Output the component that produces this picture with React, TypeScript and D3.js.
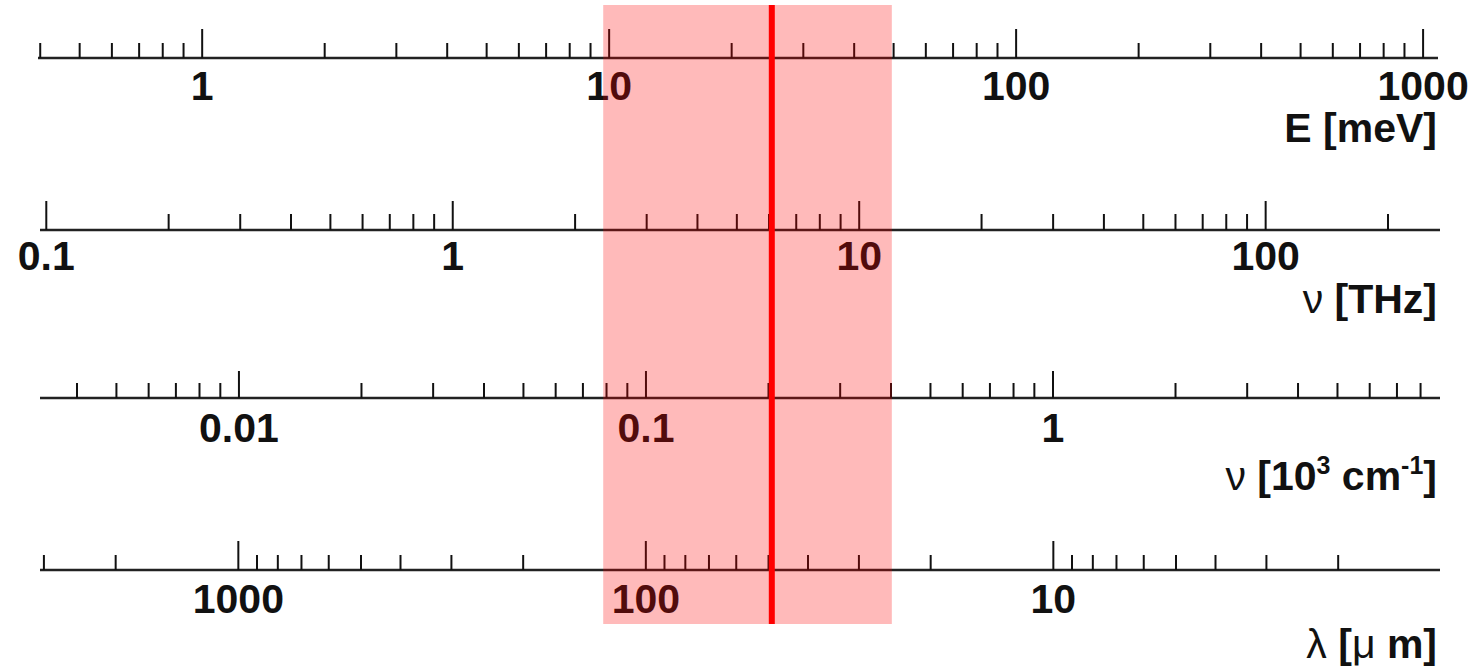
import React from 'react';
import * as d3 from 'd3';

// ---- data ----
const energyDomain = [0.395, 1088]; // meV
const energyLabels = [1, 10, 100, 1000];
const thzDomain = [0.0965, 268.5]; // THz
const thzLabels = [0.1, 1, 10, 100];
const wavenumberDomain = [0.003245, 8.93]; // 10^3 cm^-1
const wavenumberLabels = [0.01, 0.1, 1];
const wavelengthDomain = [3067, 1.125]; // µm (reversed)
const wavelengthLabels = [1000, 100, 10];
const bandMeV = [9.67, 49.5];
const markerMeV = 25.1;

const W = 1476;
const H = 669;
const FONT = '"Liberation Sans", Arial, Helvetica, sans-serif';

type AxisDef = {
  key: string;
  domain: number[];
  labels: number[];
  x0: number;
  x1: number;
  y: number;
  majorLen: number;
  minorLen: number;
  labelDy: number;
  titleY: number;
};

const axes: AxisDef[] = [
  { key: 'E', domain: energyDomain, labels: energyLabels, x0: 38, x1: 1438, y: 58, majorLen: 29, minorLen: 15, labelDy: 42, titleY: 142 },
  { key: 'THz', domain: thzDomain, labels: thzLabels, x0: 40, x1: 1440, y: 230, majorLen: 29, minorLen: 16, labelDy: 40, titleY: 313 },
  { key: 'cm', domain: wavenumberDomain, labels: wavenumberLabels, x0: 40, x1: 1440, y: 398, majorLen: 27, minorLen: 15, labelDy: 44, titleY: 490 },
  { key: 'lam', domain: wavelengthDomain, labels: wavelengthLabels, x0: 40, x1: 1440, y: 570, majorLen: 29, minorLen: 15, labelDy: 43, titleY: 658 },
];

const isDecade = (v: number) => {
  const l = Math.log10(v);
  return Math.abs(l - Math.round(l)) < 1e-6;
};

function Title({ k, y }: { k: string; y: number }) {
  const common = { x: 1437, y, textAnchor: 'end' as const, fontFamily: FONT, fontSize: 41, fill: '#111' };
  if (k === 'E') {
    return (
      <text {...common} fontWeight="bold">E [meV]</text>
    );
  }
  if (k === 'THz') {
    return (
      <text {...common}>
        <tspan fontWeight="normal">ν </tspan>
        <tspan fontWeight="bold">[THz]</tspan>
      </text>
    );
  }
  if (k === 'cm') {
    return (
      <text {...common}>
        <tspan fontWeight="normal">ν </tspan>
        <tspan fontWeight="bold">[10</tspan>
        <tspan fontWeight="bold" fontSize={25} dy={-16}>3</tspan>
        <tspan fontWeight="bold" dy={16}> cm</tspan>
        <tspan fontWeight="bold" fontSize={25} dy={-16}>-1</tspan>
        <tspan fontWeight="bold" dy={16}>]</tspan>
      </text>
    );
  }
  return (
    <text {...common}>
      <tspan fontWeight="normal">λ </tspan>
      <tspan fontWeight="bold">[</tspan>
      <tspan fontWeight="normal">μ</tspan>
      <tspan fontWeight="bold"> m]</tspan>
    </text>
  );
}

function Axis({ a }: { a: AxisDef }) {
  const scale = d3.scaleLog().domain(a.domain).range([a.x0, a.x1]);
  const ticks = scale.ticks();
  return (
    <g>
      <line x1={a.x0} x2={a.x1} y1={a.y} y2={a.y} stroke="#222" strokeWidth={2.6} />
      {ticks.map((t, i) => {
        const major = isDecade(t);
        const x = scale(t);
        return (
          <line
            key={i}
            x1={x}
            x2={x}
            y1={a.y}
            y2={a.y - (major ? a.majorLen : a.minorLen)}
            stroke="#111"
            strokeWidth={2}
          />
        );
      })}
      {a.labels.map((v, i) => (
        <text
          key={'l' + i}
          x={scale(v)}
          y={a.y + a.labelDy}
          textAnchor="middle"
          fontFamily={FONT}
          fontWeight="bold"
          fontSize={41}
          fill="#111"
        >
          {String(v)}
        </text>
      ))}
      <Title k={a.key} y={a.titleY} />
    </g>
  );
}

export default function App() {
  const eScale = d3.scaleLog().domain(energyDomain).range([axes[0].x0, axes[0].x1]);
  const bx0 = eScale(bandMeV[0]);
  const bx1 = eScale(bandMeV[1]);
  const mx = eScale(markerMeV);
  return (
    <svg
      width={W}
      height={H}
      viewBox={`0 0 ${W} ${H}`}
      style={{ position: 'absolute', left: 0, top: 0, background: '#fff' }}
    >
      <rect x={0} y={0} width={W} height={H} fill="#fff" />
      {axes.map((a) => (
        <Axis key={a.key} a={a} />
      ))}
      <rect x={bx0} y={5} width={bx1 - bx0} height={619} fill="#ff0000" fillOpacity={0.27} />
      <line x1={mx} x2={mx} y1={5} y2={624} stroke="#ff0000" strokeWidth={6} />
    </svg>
  );
}
